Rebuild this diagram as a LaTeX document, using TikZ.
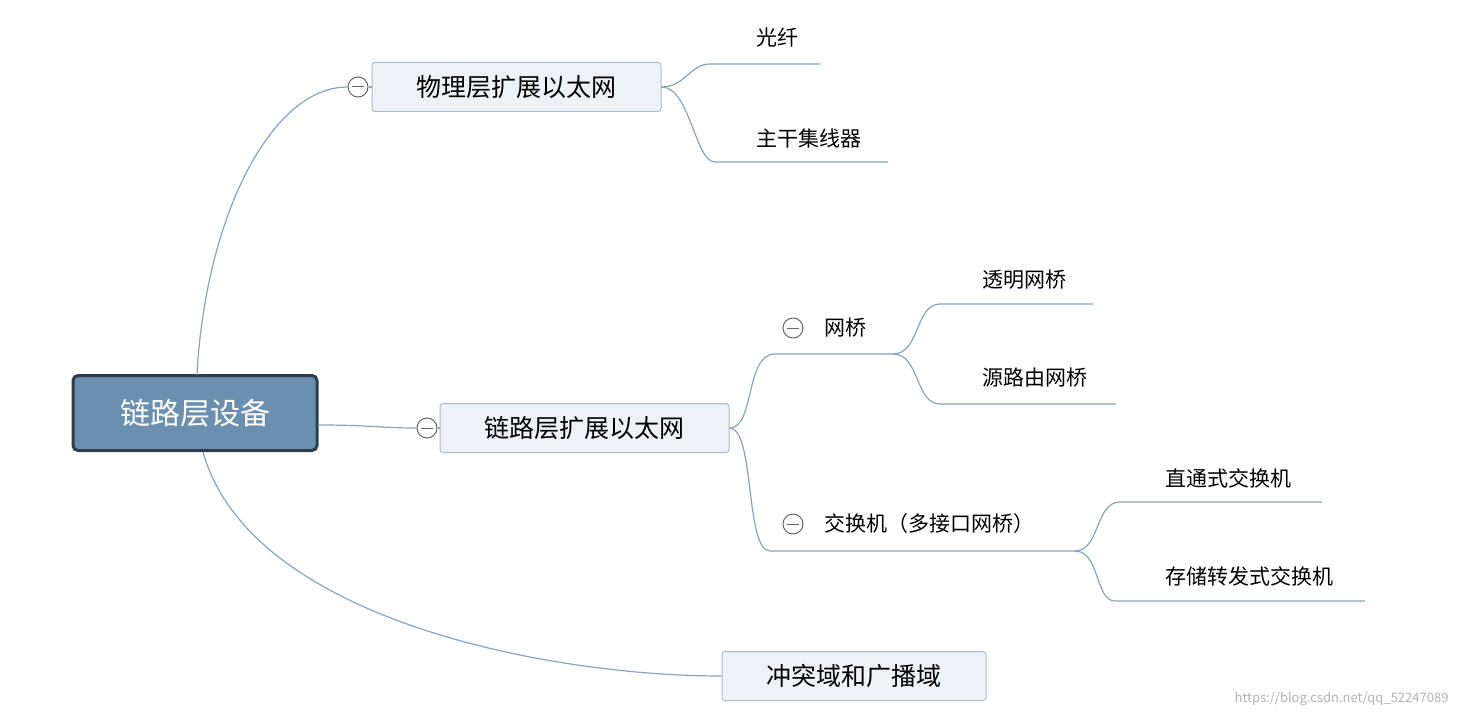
\documentclass[tikz,border=0pt]{standalone}
\usepackage{fontspec}
\setmainfont{Noto Sans CJK SC}
\begin{document}
\begin{tikzpicture}[x=1pt,y=-1pt,
 ln/.style={draw=lc,line width=1.2pt},
 box/.style={draw=bc,fill=bf,rounded corners=3pt,line width=1pt,minimum height=49pt,font=\fontsize{25}{28}\selectfont,inner sep=0pt},
 lbl/.style={font=\fontsize{21}{24}\selectfont,inner sep=0pt,anchor=west},
 minus/.style={circle,draw=gray!80!black,fill=white,line width=1pt,minimum size=20pt,inner sep=0pt,
   path picture={\draw[gray!80!black,line width=1pt] ([xshift=-6pt]path picture bounding box.center)--([xshift=6pt]path picture bounding box.center);}}]
\definecolor{lc}{HTML}{8AA4BE}
\definecolor{bc}{HTML}{A9BCCF}
\definecolor{bf}{HTML}{EEF2F6}
\useasboundingbox[fill=white] (0,0) rectangle (1459,719);
% central
\node[draw={rgb,255:red,47;green,61;blue,76},fill={rgb,255:red,106;green,143;blue,175},rounded corners=5pt,line width=3pt,minimum width=244pt,minimum height=75pt,text=white,font=\fontsize{30}{34}\selectfont] (root) at (195,413) {链路层设备};
% level 1
\node[box,minimum width=289pt] (phy) at (516.5,87) {物理层扩展以太网};
\node[box,minimum width=289pt] (link) at (584.5,428) {链路层扩展以太网};
\node[box,minimum width=264pt] (col) at (854,676) {冲突域和广播域};
\node[minus] (m1) at (358,87) {};
\node[minus] (m2) at (427,428) {};
\coordinate (rr) at (318,425);
\draw[ln] (197,375) .. controls (205,220) and (270,87) .. (m1.west);
\draw[ln] (m1.east) -- (phy.west);
\draw[ln] (rr) .. controls (370,425) and (380,428) .. (m2.west);
\draw[ln] (m2.east) -- (link.west);
\draw[ln] (203,452) .. controls (250,620) and (550,676) .. (col.west);
% phy children
\coordinate (p1a) at (710,64); \coordinate (p1b) at (820,64);
\coordinate (p2a) at (715,162); \coordinate (p2b) at (888,162);
\node[lbl] (t1) at (756,38) {光纤};
\node[lbl] (t2) at (756,138) {主干集线器};
\draw[ln] (phy.east) .. controls (685,87) and (690,64) .. (p1a) -- (p1b);
\draw[ln] (phy.east) .. controls (690,87) and (695,162) .. (p2a) -- (p2b);
% link children
\coordinate (b0) at (775,354); \coordinate (b1) at (893,354);
\coordinate (s0) at (770,551); \coordinate (s1) at (1075,551);
\node[minus] (m3) at (793,328) {};
\node[lbl] (tb) at (824,328) {网桥};
\node[minus] (m4) at (793,524) {};
\node[lbl] (ts) at (824,524) {交换机（多接口网桥）};
\draw[ln] (link.east) .. controls (755,428) and (745,354) .. (b0) -- (b1);
\draw[ln] (link.east) .. controls (755,428) and (745,551) .. (s0) -- (s1);
% bridge children
\coordinate (c1a) at (940,304); \coordinate (c1b) at (1093,304);
\coordinate (c2a) at (940,404); \coordinate (c2b) at (1116,404);
\node[lbl] at (982,280) {透明网桥};
\node[lbl] at (982,378) {源路由网桥};
\draw[ln] (b1) .. controls (920,354) and (915,304) .. (c1a) -- (c1b);
\draw[ln] (b1) .. controls (920,354) and (915,404) .. (c2a) -- (c2b);
% switch children
\coordinate (d1a) at (1120,502); \coordinate (d1b) at (1322,502);
\coordinate (d2a) at (1115,601); \coordinate (d2b) at (1365,601);
\node[lbl] at (1165,478) {直通式交换机};
\node[lbl] at (1165,576) {存储转发式交换机};
\draw[ln] (s1) .. controls (1100,551) and (1095,502) .. (d1a) -- (d1b);
\draw[ln] (s1) .. controls (1100,551) and (1095,601) .. (d2a) -- (d2b);
\node[text=gray!60,font=\fontsize{13}{15}\selectfont,anchor=east] at (1452,699) {https://blog.csdn.net/qq\_52247089};
\end{tikzpicture}
\end{document}
